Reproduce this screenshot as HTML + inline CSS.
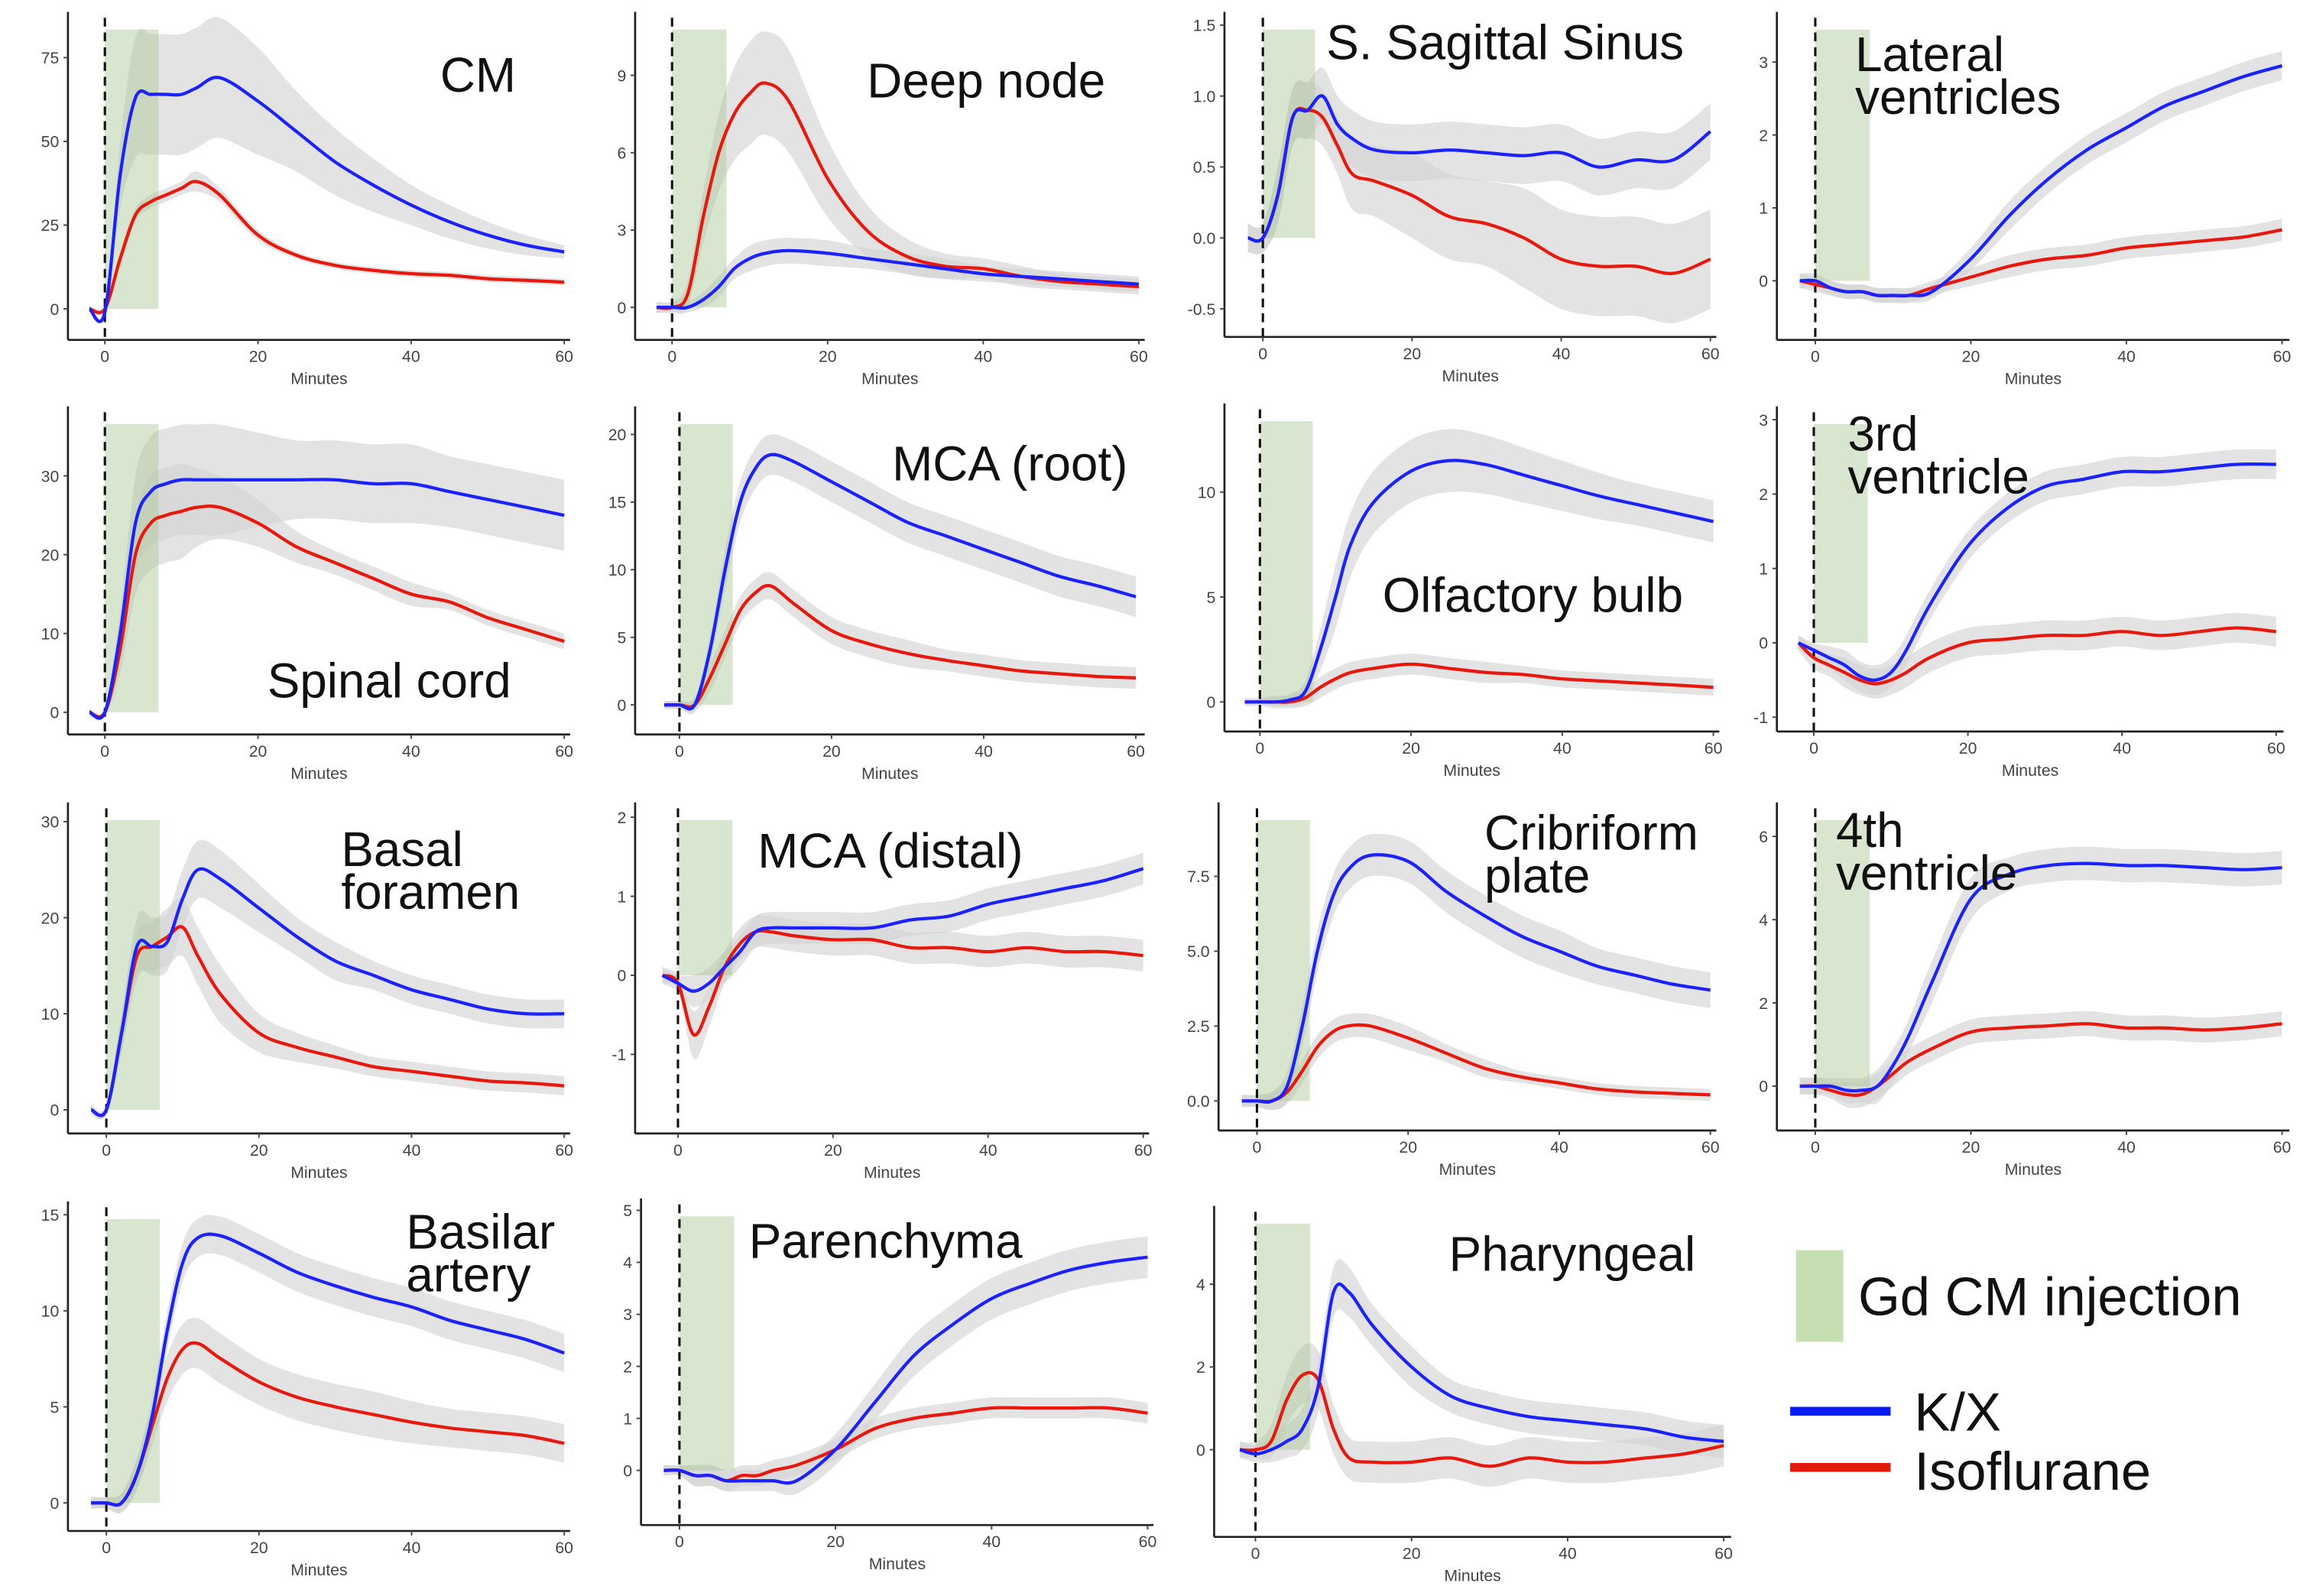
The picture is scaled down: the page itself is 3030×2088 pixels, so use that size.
<!DOCTYPE html>
<html><head><meta charset="utf-8"><style>
html,body{margin:0;padding:0;background:#fff;}
svg{display:block;}
text{font-family:"Liberation Sans",Arial,sans-serif;}
</style></head><body>
<svg id="fig" width="3030" height="2088" viewBox="0 0 1568 1080" preserveAspectRatio="none" xmlns="http://www.w3.org/2000/svg">
<rect x="0" y="0" width="1568" height="1080" fill="#fff"/>
<g id="legend">
<rect x="1216" y="846" width="32" height="62" fill="#c5dfb3"/>
<text x="1258" y="890" font-size="36.5" fill="#111">Gd CM injection</text>
<rect x="1212" y="952" width="68" height="6" fill="#0a1aff"/>
<text x="1296" y="968" font-size="36.5" fill="#111">K/X</text>
<rect x="1212" y="990" width="68" height="6" fill="#e01a0a"/>
<text x="1296" y="1008" font-size="36.5" fill="#111">Isoflurane</text>
</g>
</svg>
<script>
const times = [-2,0,2,4,6,8,10,12,15,20,25,30,35,40,45,50,55,60];

const cmBlue = [0,-1,40,63,64,64,64,66,69,62,53,44,37,31,26,22,19,17];
const cmBlueSd = [1,1,10,18,18,18,18,18,18,16,12,10,8,6,5,4,3,2];
const cmRed = [0,0,15,28,32,34,36,38,34,22,16,13,11.5,10.5,10,9,8.5,8];
const cmRedSd = [1,1,2,2,2,2,2,3,2,1.5,1,1,1,1,1,1,1,1];

const deepBlue = [0,0,0,0.3,0.8,1.5,1.9,2.1,2.2,2.1,1.9,1.7,1.5,1.3,1.2,1.1,1,0.9];
const deepBlueSd = [0.2,0.2,0.2,0.3,0.4,0.4,0.5,0.5,0.5,0.5,0.4,0.4,0.4,0.3,0.3,0.3,0.3,0.3];
const deepRed = [0,0,0.5,3.5,6,7.5,8.3,8.7,8,5,3,2,1.6,1.5,1.2,1,0.9,0.8];
const deepRedSd = [0.2,0.2,0.5,1,1.5,1.8,2,2,2,1.5,1,0.7,0.5,0.4,0.4,0.3,0.3,0.3];

const sssBlue = [0,0,0.3,0.85,0.9,1.0,0.8,0.7,0.62,0.6,0.62,0.6,0.58,0.6,0.5,0.55,0.55,0.75];
const sssBlueSd = [0.1,0.1,0.2,0.2,0.2,0.2,0.2,0.2,0.2,0.2,0.2,0.2,0.2,0.2,0.2,0.2,0.2,0.2];
const sssRed = [0,0,0.3,0.85,0.9,0.85,0.65,0.45,0.4,0.3,0.15,0.1,0,-0.15,-0.2,-0.2,-0.25,-0.15];
const sssRedSd = [0.1,0.1,0.2,0.2,0.2,0.2,0.2,0.25,0.25,0.3,0.3,0.3,0.35,0.35,0.35,0.35,0.35,0.35];

const latBlue = [0,0,-0.1,-0.15,-0.15,-0.2,-0.2,-0.2,-0.15,0.3,0.9,1.4,1.8,2.1,2.4,2.6,2.8,2.95];
const latBlueSd = [0.1,0.1,0.1,0.1,0.1,0.1,0.1,0.1,0.1,0.15,0.2,0.2,0.2,0.2,0.2,0.2,0.2,0.2];
const latRed = [0,-0.05,-0.1,-0.15,-0.15,-0.2,-0.2,-0.2,-0.1,0.05,0.2,0.3,0.35,0.45,0.5,0.55,0.6,0.7];
const latRedSd = [0.1,0.1,0.1,0.1,0.1,0.1,0.1,0.1,0.1,0.12,0.15,0.15,0.15,0.15,0.15,0.15,0.15,0.15];

const spBlue = [0,0,10,24,28,29,29.5,29.5,29.5,29.5,29.5,29.5,29,29,28,27,26,25];
const spBlueSd = [0.5,0.5,3,6,7,7,7,7,7,6,5,5,5,5,4.5,4.5,4.5,4.5];
const spRed = [0,0,8,20,24,25,25.5,26,26,24,21,19,17,15,14,12,10.5,9];
const spRedSd = [0.5,0.5,3,5,6,6,6,5,4,3,2,1.5,1.5,1.5,1,1,1,1];

const mrBlue = [0,0,0,4,10,15,17.5,18.5,18,16.5,15,13.5,12.5,11.5,10.5,9.5,8.8,8];
const mrBlueSd = [0.3,0.3,0.5,1,1.5,1.5,1.5,1.5,1.5,1.5,1.5,1.5,1.5,1.5,1.5,1.5,1.5,1.5];
const mrRed = [0,0,0,2,4.5,7,8.3,8.8,7.5,5.5,4.5,3.8,3.3,2.9,2.5,2.3,2.1,2];
const mrRedSd = [0.3,0.3,0.5,1,1,1,1,1,1,1,1,1,0.8,0.8,0.8,0.8,0.8,0.8];

const olBlue = [0,0,0,0.1,0.5,2.5,5,7.5,9.5,11,11.5,11.3,10.8,10.3,9.8,9.4,9,8.6];
const olBlueSd = [0.1,0.1,0.2,0.3,0.5,1,1.5,1.5,1.5,1.5,1.5,1.4,1.3,1.2,1.1,1,1,1];
const olRed = [0,0,0,0,0.2,0.7,1.1,1.4,1.6,1.8,1.6,1.4,1.3,1.1,1,0.9,0.8,0.7];
const olRedSd = [0.2,0.2,0.3,0.3,0.4,0.5,0.5,0.5,0.5,0.5,0.5,0.5,0.4,0.4,0.4,0.4,0.4,0.4];

const v3Blue = [0,-0.1,-0.2,-0.3,-0.45,-0.5,-0.4,-0.1,0.5,1.3,1.8,2.1,2.2,2.3,2.3,2.35,2.4,2.4];
const v3BlueSd = [0.1,0.1,0.15,0.2,0.2,0.2,0.2,0.2,0.2,0.2,0.2,0.2,0.2,0.2,0.2,0.2,0.2,0.2];
const v3Red = [0,-0.2,-0.3,-0.4,-0.5,-0.55,-0.5,-0.4,-0.2,0,0.05,0.1,0.1,0.15,0.1,0.15,0.2,0.15];
const v3RedSd = [0.1,0.15,0.15,0.2,0.2,0.2,0.2,0.2,0.2,0.2,0.2,0.2,0.2,0.2,0.2,0.2,0.2,0.2];

const bfBlue = [0,0,8,17,17,17.5,22,25,24,21,18,15.5,14,12.5,11.5,10.5,10,10];
const bfBlueSd = [0.5,0.5,2,3,3,3,3,3,3,2.5,2,2,1.5,1.5,1.5,1.5,1.5,1.5];
const bfRed = [0,0,8,16,17,18,19,16,12,8,6.5,5.5,4.5,4,3.5,3,2.8,2.5];
const bfRedSd = [0.5,0.5,2,2.5,2.5,3,3,3,3,2,1.5,1.2,1,1,1,1,1,1];

const mdBlue = [0,-0.1,-0.2,-0.1,0.1,0.3,0.55,0.6,0.6,0.6,0.6,0.7,0.75,0.9,1.0,1.1,1.2,1.35];
const mdBlueSd = [0.1,0.1,0.2,0.2,0.2,0.2,0.2,0.2,0.2,0.2,0.2,0.2,0.2,0.2,0.2,0.2,0.2,0.2];
const mdRed = [0,-0.1,-0.75,-0.4,0.1,0.4,0.55,0.55,0.5,0.45,0.45,0.35,0.35,0.3,0.35,0.3,0.3,0.25];
const mdRedSd = [0.1,0.1,0.3,0.25,0.2,0.2,0.2,0.2,0.2,0.2,0.2,0.2,0.2,0.2,0.2,0.2,0.2,0.2];

const crBlue = [0,0,0,0.5,2.5,5,6.8,7.7,8.2,8,7,6.2,5.5,5,4.5,4.2,3.9,3.7];
const crBlueSd = [0.2,0.2,0.3,0.5,0.7,0.7,0.7,0.7,0.7,0.7,0.7,0.7,0.7,0.7,0.6,0.6,0.6,0.6];
const crRed = [0,0,0,0.3,1,1.8,2.3,2.5,2.5,2.1,1.6,1.1,0.8,0.6,0.4,0.3,0.25,0.2];
const crRedSd = [0.2,0.2,0.3,0.4,0.4,0.4,0.4,0.4,0.4,0.4,0.3,0.3,0.2,0.2,0.2,0.2,0.2,0.2];

const v4Blue = [0,0,0,-0.1,-0.1,0,0.5,1.2,2.5,4.5,5.1,5.3,5.35,5.3,5.3,5.25,5.2,5.25];
const v4BlueSd = [0.2,0.2,0.2,0.3,0.3,0.4,0.4,0.4,0.5,0.5,0.4,0.4,0.4,0.4,0.4,0.4,0.4,0.4];
const v4Red = [0,0,-0.1,-0.2,-0.2,0,0.3,0.6,0.9,1.3,1.4,1.45,1.5,1.4,1.4,1.35,1.4,1.5];
const v4RedSd = [0.2,0.2,0.2,0.3,0.3,0.3,0.3,0.3,0.3,0.3,0.3,0.3,0.3,0.3,0.3,0.3,0.3,0.3];

const baBlue = [0,0,0,1.5,4.5,9,12.5,13.8,13.9,13,12,11.3,10.7,10.2,9.5,9,8.5,7.8];
const baBlueSd = [0.3,0.3,0.5,0.8,1,1,1,1,1,1,1,1,1,1,1,1,1,1];
const baRed = [0,0,0,1.5,4,6.5,8,8.3,7.5,6.3,5.5,5,4.6,4.2,3.9,3.7,3.5,3.1];
const baRedSd = [0.3,0.3,0.5,0.8,1,1.2,1.3,1.3,1.3,1.2,1.2,1.2,1.2,1.1,1,1,1,1];

const paBlue = [0,0,-0.1,-0.1,-0.2,-0.2,-0.2,-0.2,-0.2,0.4,1.3,2.2,2.8,3.3,3.6,3.85,4,4.1];
const paBlueSd = [0.1,0.1,0.2,0.2,0.2,0.2,0.2,0.2,0.25,0.3,0.35,0.4,0.4,0.4,0.4,0.4,0.4,0.4];
const paRed = [0,0,-0.1,-0.1,-0.2,-0.1,-0.1,0,0.1,0.4,0.8,1.0,1.1,1.2,1.2,1.2,1.2,1.1];
const paRedSd = [0.1,0.1,0.2,0.2,0.2,0.2,0.2,0.2,0.2,0.2,0.2,0.2,0.2,0.2,0.2,0.2,0.2,0.2];

const phBlue = [0,-0.1,0,0.2,0.5,1.5,3.8,3.8,3,2,1.3,1,0.8,0.7,0.6,0.5,0.3,0.2];
const phBlueSd = [0.2,0.2,0.3,0.4,0.5,0.6,0.6,0.6,0.5,0.5,0.4,0.4,0.4,0.4,0.4,0.4,0.4,0.4];
const phRed = [0,0,0.2,1.2,1.8,1.7,0.5,-0.2,-0.3,-0.3,-0.2,-0.4,-0.2,-0.3,-0.3,-0.2,-0.1,0.1];
const phRedSd = [0.2,0.2,0.4,0.6,0.7,0.7,0.6,0.5,0.5,0.5,0.5,0.5,0.5,0.5,0.5,0.5,0.5,0.5];

const xTicks = [0,20,40,60];
const injectionEnd = 7;

// layout (pixels) — not data
const panels = [
 {id:'cm', title:['CM'], tx:298, ty:62, ax:46, x0:71, x60:382, xr:386, top:8, bot:230, v0:209, vr:75, pr:39, ticks:[0,25,50,75], b:cmBlue, bs:cmBlueSd, r:cmRed, rs:cmRedSd},
 {id:'deep-node', title:['Deep node'], tx:587, ty:66, ax:430, x0:455, x60:771, xr:775, top:8, bot:230, v0:208, vr:9, pr:51, ticks:[0,3,6,9], b:deepBlue, bs:deepBlueSd, r:deepRed, rs:deepRedSd},
 {id:'sagittal-sinus', title:['S. Sagittal Sinus'], tx:898, ty:40, ax:829, x0:855, x60:1158, xr:1162, top:8, bot:228, v0:161, vr:1.5, pr:17, ticks:[-0.5,0,0.5,1,1.5], fmt:1, b:sssBlue, bs:sssBlueSd, r:sssRed, rs:sssRedSd},
 {id:'lateral-ventricles', title:['Lateral','ventricles'], tx:1256, ty:48, ax:1203, x0:1229, x60:1545, xr:1550, top:8, bot:230, v0:190, vr:3, pr:42, ticks:[0,1,2,3], b:latBlue, bs:latBlueSd, r:latRed, rs:latRedSd},
 {id:'spinal-cord', title:['Spinal cord'], tx:181, ty:472, ax:46, x0:71, x60:382, xr:386, top:275, bot:497, v0:482, vr:30, pr:322, ticks:[0,10,20,30], b:spBlue, bs:spBlueSd, r:spRed, rs:spRedSd},
 {id:'mca-root', title:['MCA (root)'], tx:604, ty:325, ax:430, x0:460, x60:769, xr:775, top:275, bot:497, v0:477, vr:20, pr:294, ticks:[0,5,10,15,20], b:mrBlue, bs:mrBlueSd, r:mrRed, rs:mrRedSd},
 {id:'olfactory-bulb', title:['Olfactory bulb'], tx:936, ty:414, ax:829, x0:853, x60:1160, xr:1164, top:273, bot:495, v0:475, vr:10, pr:333, ticks:[0,5,10], b:olBlue, bs:olBlueSd, r:olRed, rs:olRedSd},
 {id:'third-ventricle', title:['3rd','ventricle'], tx:1251, ty:305, ax:1203, x0:1228, x60:1541, xr:1546, top:275, bot:495, v0:435, vr:3, pr:284, ticks:[-1,0,1,2,3], b:v3Blue, bs:v3BlueSd, r:v3Red, rs:v3RedSd},
 {id:'basal-foramen', title:['Basal','foramen'], tx:231, ty:586, ax:46, x0:72, x60:382, xr:386, top:543, bot:767, v0:751, vr:30, pr:556, ticks:[0,10,20,30], b:bfBlue, bs:bfBlueSd, r:bfRed, rs:bfRedSd},
 {id:'mca-distal', title:['MCA (distal)'], tx:513, ty:587, ax:430, x0:459, x60:774, xr:778, top:543, bot:767, v0:660, vr:2, pr:553, ticks:[-1,0,1,2], b:mdBlue, bs:mdBlueSd, r:mdRed, rs:mdRedSd},
 {id:'cribriform-plate', title:['Cribriform','plate'], tx:1005, ty:575, ax:825, x0:851, x60:1158, xr:1162, top:543, bot:765, v0:745, vr:7.5, pr:593, ticks:[0,2.5,5,7.5], fmt:1, b:crBlue, bs:crBlueSd, r:crRed, rs:crRedSd},
 {id:'fourth-ventricle', title:['4th','ventricle'], tx:1243, ty:573, ax:1203, x0:1229, x60:1545, xr:1550, top:543, bot:765, v0:735, vr:6, pr:566, ticks:[0,2,4,6], b:v4Blue, bs:v4BlueSd, r:v4Red, rs:v4RedSd},
 {id:'basilar-artery', title:['Basilar','artery'], tx:275, ty:845, ax:46, x0:72, x60:382, xr:386, top:813, bot:1036, v0:1017, vr:15, pr:822, ticks:[0,5,10,15], b:baBlue, bs:baBlueSd, r:baRed, rs:baRedSd},
 {id:'parenchyma', title:['Parenchyma'], tx:507, ty:851, ax:434, x0:460, x60:777, xr:781, top:811, bot:1032, v0:995, vr:5, pr:819, ticks:[0,1,2,3,4,5], b:paBlue, bs:paBlueSd, r:paRed, rs:paRedSd},
 {id:'pharyngeal', title:['Pharyngeal'], tx:981, ty:860, ax:822, x0:850, x60:1167, xr:1172, top:816, bot:1040, v0:981, vr:4, pr:869, ticks:[0,2,4], b:phBlue, bs:phBlueSd, r:phRed, rs:phRedSd}
];

const NS='http://www.w3.org/2000/svg';
const svg=document.getElementById('fig');
function mk(tag,attrs,parent){const e=document.createElementNS(NS,tag);for(const k in attrs)e.setAttribute(k,attrs[k]);parent.appendChild(e);return e;}
function smooth(pts){
  let d='M'+pts[0][0].toFixed(1)+','+pts[0][1].toFixed(1);
  for(let i=0;i<pts.length-1;i++){
    const p0=pts[i-1]||pts[i],p1=pts[i],p2=pts[i+1],p3=pts[i+2]||p2;
    const c1=[p1[0]+(p2[0]-p0[0])/6,p1[1]+(p2[1]-p0[1])/6];
    const c2=[p2[0]-(p3[0]-p1[0])/6,p2[1]-(p3[1]-p1[1])/6];
    d+=' C'+c1[0].toFixed(1)+','+c1[1].toFixed(1)+' '+c2[0].toFixed(1)+','+c2[1].toFixed(1)+' '+p2[0].toFixed(1)+','+p2[1].toFixed(1);
  }
  return d;
}
function smoothCont(pts){return smooth(pts).replace(/^M/,'L');}

panels.forEach(p=>{
  const xs=t=>p.x0+(p.x60-p.x0)*t/60;
  const ys=v=>p.v0+(p.pr-p.v0)*v/p.vr;
  const g=mk('g',{},svg);
  
  
  [[p.b,p.bs,'blue'],[p.r,p.rs,'red']].forEach(([vals,sd,nm])=>{
    const up=times.map((t,i)=>[xs(t),ys(vals[i]+sd[i])]);
    const lo=times.map((t,i)=>[xs(t),ys(vals[i]-sd[i])]).reverse();
    const band=mk('path',{d:smooth(up)+' '+smoothCont(lo)+' Z',fill:'#d4d4d4','fill-opacity':0.65},g);
    
    
  });
  const inj=mk('rect',{x:xs(0),y:p.top+12,width:xs(injectionEnd)-xs(0),height:ys(0)-(p.top+12),fill:'#a8c896','fill-opacity':0.45},g);
  
  
  const dl=mk('line',{x1:xs(0),x2:xs(0),y1:p.top+4,y2:p.bot,stroke:'#111','stroke-width':1.6,'stroke-dasharray':'6,4'},g);
  
  
  [[p.r,'#e8180c','iso-line'],[p.b,'#1a22ff','kx-line']].forEach(([vals,col,nm])=>{
    const pts=times.map((t,i)=>[xs(t),ys(vals[i])]);
    const ln=mk('path',{d:smooth(pts),fill:'none',stroke:col,'stroke-width':2.2,'stroke-linejoin':'round'},g);
    
    
  });
  const ya=mk('line',{x1:p.ax,x2:p.ax,y1:p.top,y2:p.bot,stroke:'#222','stroke-width':1.4},g);
  
  
  const xa=mk('line',{x1:p.ax,x2:p.xr,y1:p.bot,y2:p.bot,stroke:'#222','stroke-width':1.4},g);
  
  
  p.ticks.forEach(v=>{
    const y=ys(v);
    mk('line',{x1:p.ax-3,x2:p.ax,y1:y,y2:y,stroke:'#444','stroke-width':1},g);
    const t=mk('text',{x:p.ax-6,y:y+4,'font-size':11,fill:'#444','text-anchor':'end'},g);
    t.textContent=p.fmt?v.toFixed(1):String(v);
    
    
  });
  xTicks.forEach(v=>{
    const x=xs(v);
    mk('line',{x1:x,x2:x,y1:p.bot,y2:p.bot+3,stroke:'#444','stroke-width':1},g);
    const t=mk('text',{x:x,y:p.bot+15,'font-size':11,fill:'#444','text-anchor':'middle'},g);
    t.textContent=String(v);
    
    
  });
  const xt=mk('text',{x:(p.ax+p.xr)/2,y:p.bot+30,'font-size':11,fill:'#444','text-anchor':'middle'},g);
  xt.textContent='Minutes';
  
  
  p.title.forEach((s,i)=>{
    const t=mk('text',{x:p.tx,y:p.ty+i*29,'font-size':33,fill:'#111'},g);
    t.textContent=s;
    
    
  });
});
</script>
</body></html>
